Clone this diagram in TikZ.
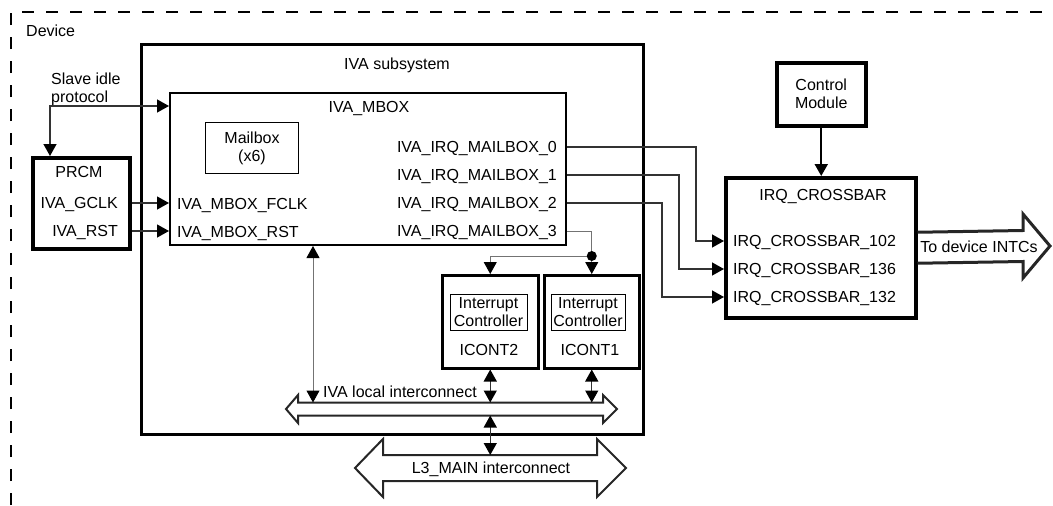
\documentclass[tikz,border=0pt]{standalone}
\usepackage{fontspec}
\setmainfont{Liberation Sans}
\usetikzlibrary{arrows.meta,calc}

\begin{document}
\begin{tikzpicture}[x=1pt, y=-1pt,
  every node/.style={font=\fontsize{16}{18}\selectfont, inner sep=0pt},
  blk/.style={draw, rectangle, anchor=north west},
  lbl/.style={text height=11.5pt, text depth=0pt},
  sig/.style={draw=black!80, line width=1.3pt},
  sigthin/.style={draw=black!55, line width=1pt},
  arr/.style={-{Triangle[length=12pt,width=13pt,color=black]}},
  dblarr/.style={{Triangle[length=12pt,width=13pt,color=black]}-{Triangle[length=12pt,width=13pt,color=black]}},
  bus/.style={draw=black!85, line width=2pt, fill=white, line join=miter}]
  \useasboundingbox (0,0) rectangle (1053,506);

  % Device boundary
  \draw[line width=2.5pt, dash pattern=on 12pt off 12pt, dash phase=-1pt] (11,506) -- (11,12) -- (1053,12);
  \node[lbl, anchor=west] (device) at (26,31) {Device};

  % IVA subsystem
  \node[blk, line width=3pt, minimum width=502pt, minimum height=390pt] (ivass) at (140,43) {};
  \node[lbl] (ivasslbl) at (397,64) {IVA subsystem};

  % IVA_MBOX
  \node[blk, line width=2pt, minimum width=396pt, minimum height=152pt] (mbox) at (169,92) {};
  \node[lbl] (mboxlbl) at (369,107) {IVA\_MBOX};
  \node[blk, line width=1pt, minimum width=93pt, minimum height=51pt, align=center] (mailbox) at (205,122) {Mailbox\\(x6)};
  \node[lbl, anchor=west] (fclk) at (177,204) {IVA\_MBOX\_FCLK};
  \node[lbl, anchor=west] (mrst) at (177,232) {IVA\_MBOX\_RST};
  \foreach \i/\y in {0/147,1/175,2/203,3/231}
    \node[lbl, anchor=east] (irq\i) at (557,\y) {IVA\_IRQ\_MAILBOX\_\i};

  % PRCM
  \node[blk, line width=3.5pt, minimum width=97pt, minimum height=91pt] (prcm) at (31,156) {};
  \node[lbl] (prcmlbl) at (79,172) {PRCM};
  \node[lbl, anchor=east] (gclk) at (118,203) {IVA\_GCLK};
  \node[lbl, anchor=east] (prst) at (118,231) {IVA\_RST};
  \node[anchor=west, align=left] (idle) at (51,89) {Slave idle\\protocol};

  % interrupt controllers
  \node[blk, line width=2.5pt, minimum width=96pt, minimum height=93pt] (icont2) at (441,274) {};
  \node[blk, line width=2.5pt, minimum width=95pt, minimum height=93pt] (icont1) at (543,274) {};
  \node[draw, line width=1pt, minimum width=77pt, minimum height=36pt, align=center] (intc2) at (488.5,312) {Interrupt\\Controller};
  \node[draw, line width=1pt, minimum width=74pt, minimum height=36pt, align=center] (intc1) at (588,312) {Interrupt\\Controller};
  \node[lbl] (icont2lbl) at (489,350) {ICONT2};
  \node[lbl] (icont1lbl) at (590,350) {ICONT1};

  % IRQ crossbar and control module
  \node[blk, line width=3.5pt, minimum width=190pt, minimum height=140pt] (xbar) at (724,176) {};
  \node[lbl] (xbarlbl) at (823,195) {IRQ\_CROSSBAR};
  \foreach \n/\y in {102/241,136/269,132/297}
    \node[lbl, anchor=west] (xb\n) at (733,\y) {IRQ\_CROSSBAR\_\n};
  \node[blk, line width=3.5pt, minimum width=89pt, minimum height=63pt, align=center] (ctrl) at (775,61) {Control\\Module};

  % interconnects
  \draw[bus] (286,409) -- (298,395) -- (298,402.5) -- (603,402.5) -- (603,395) -- (617,409)
    -- (603,423) -- (603,415.5) -- (298,415.5) -- (298,423) -- cycle;
  \node[lbl, anchor=west] (localbus) at (323,392) {IVA local interconnect};
  \draw[bus] (355,468) -- (383,439) -- (383,455) -- (597,455) -- (597,439) -- (626,468)
    -- (597,497) -- (597,481) -- (383,481) -- (383,497) -- cycle;
  \node[lbl] (l3bus) at (491,468) {L3\_MAIN interconnect};
  \coordinate (lbn) at (0,402.5);
  \coordinate (lbs) at (0,415.5);
  \coordinate (l3n) at (0,455);

  % to device INTCs
  \draw[draw=black!85, line width=3pt, line join=miter] ($(xbar.east)+(0,-15.5)$) -- (1023,230.5) -- (1023,214)
    -- (1050,246) -- (1023,278) -- (1023,261.5) -- ($(xbar.east)+(0,15.5)$);
  \node[lbl] (intcs) at (979,247) {To device INTCs};

  % PRCM signals
  \draw[sig, dblarr] ($(prcm.north west)+(19,0)$) |- ($(mbox.north west)+(0,14)$);
  \draw[sig, arr] (prcm.east |- gclk) -- (mbox.west |- gclk);
  \draw[sig, arr] (prcm.east |- prst) -- (mbox.west |- prst);

  % mailbox interrupts
  \draw[sig, arr] (mbox.east |- irq0) -| ($(xbar.west |- xb102)+(-28,0)$) -- (xbar.west |- xb102);
  \draw[sig, arr] (mbox.east |- irq1) -| ($(xbar.west |- xb136)+(-45,0)$) -- (xbar.west |- xb136);
  \draw[sig, arr] (mbox.east |- irq2) -| ($(xbar.west |- xb132)+(-62,0)$) -- (xbar.west |- xb132);
  \coordinate (split) at ($(icont1.north)+(0,-18)$);
  \draw[sigthin] (mbox.east |- irq3) -| (split);
  \draw[sigthin, arr] (split) -- (icont1.north);
  \draw[sigthin, arr] (split) -| (icont2.north);
  \fill (split) circle (5pt);
  \draw[line width=2pt, arr] (ctrl.south) -- (ctrl.south |- xbar.north);

  % interconnect links
  \coordinate (mport) at ($(mbox.south)+(-55,0)$);
  \draw[sigthin, dblarr] (mport) -- (mport |- lbn);
  \draw[sig, dblarr] (icont2.south) -- (icont2.south |- lbn);
  \draw[sig, dblarr] (icont1.south) -- (icont1.south |- lbn);
  \draw[sig, dblarr] (icont2.south |- lbs) -- (icont2.south |- l3n);
\end{tikzpicture}
\end{document}
